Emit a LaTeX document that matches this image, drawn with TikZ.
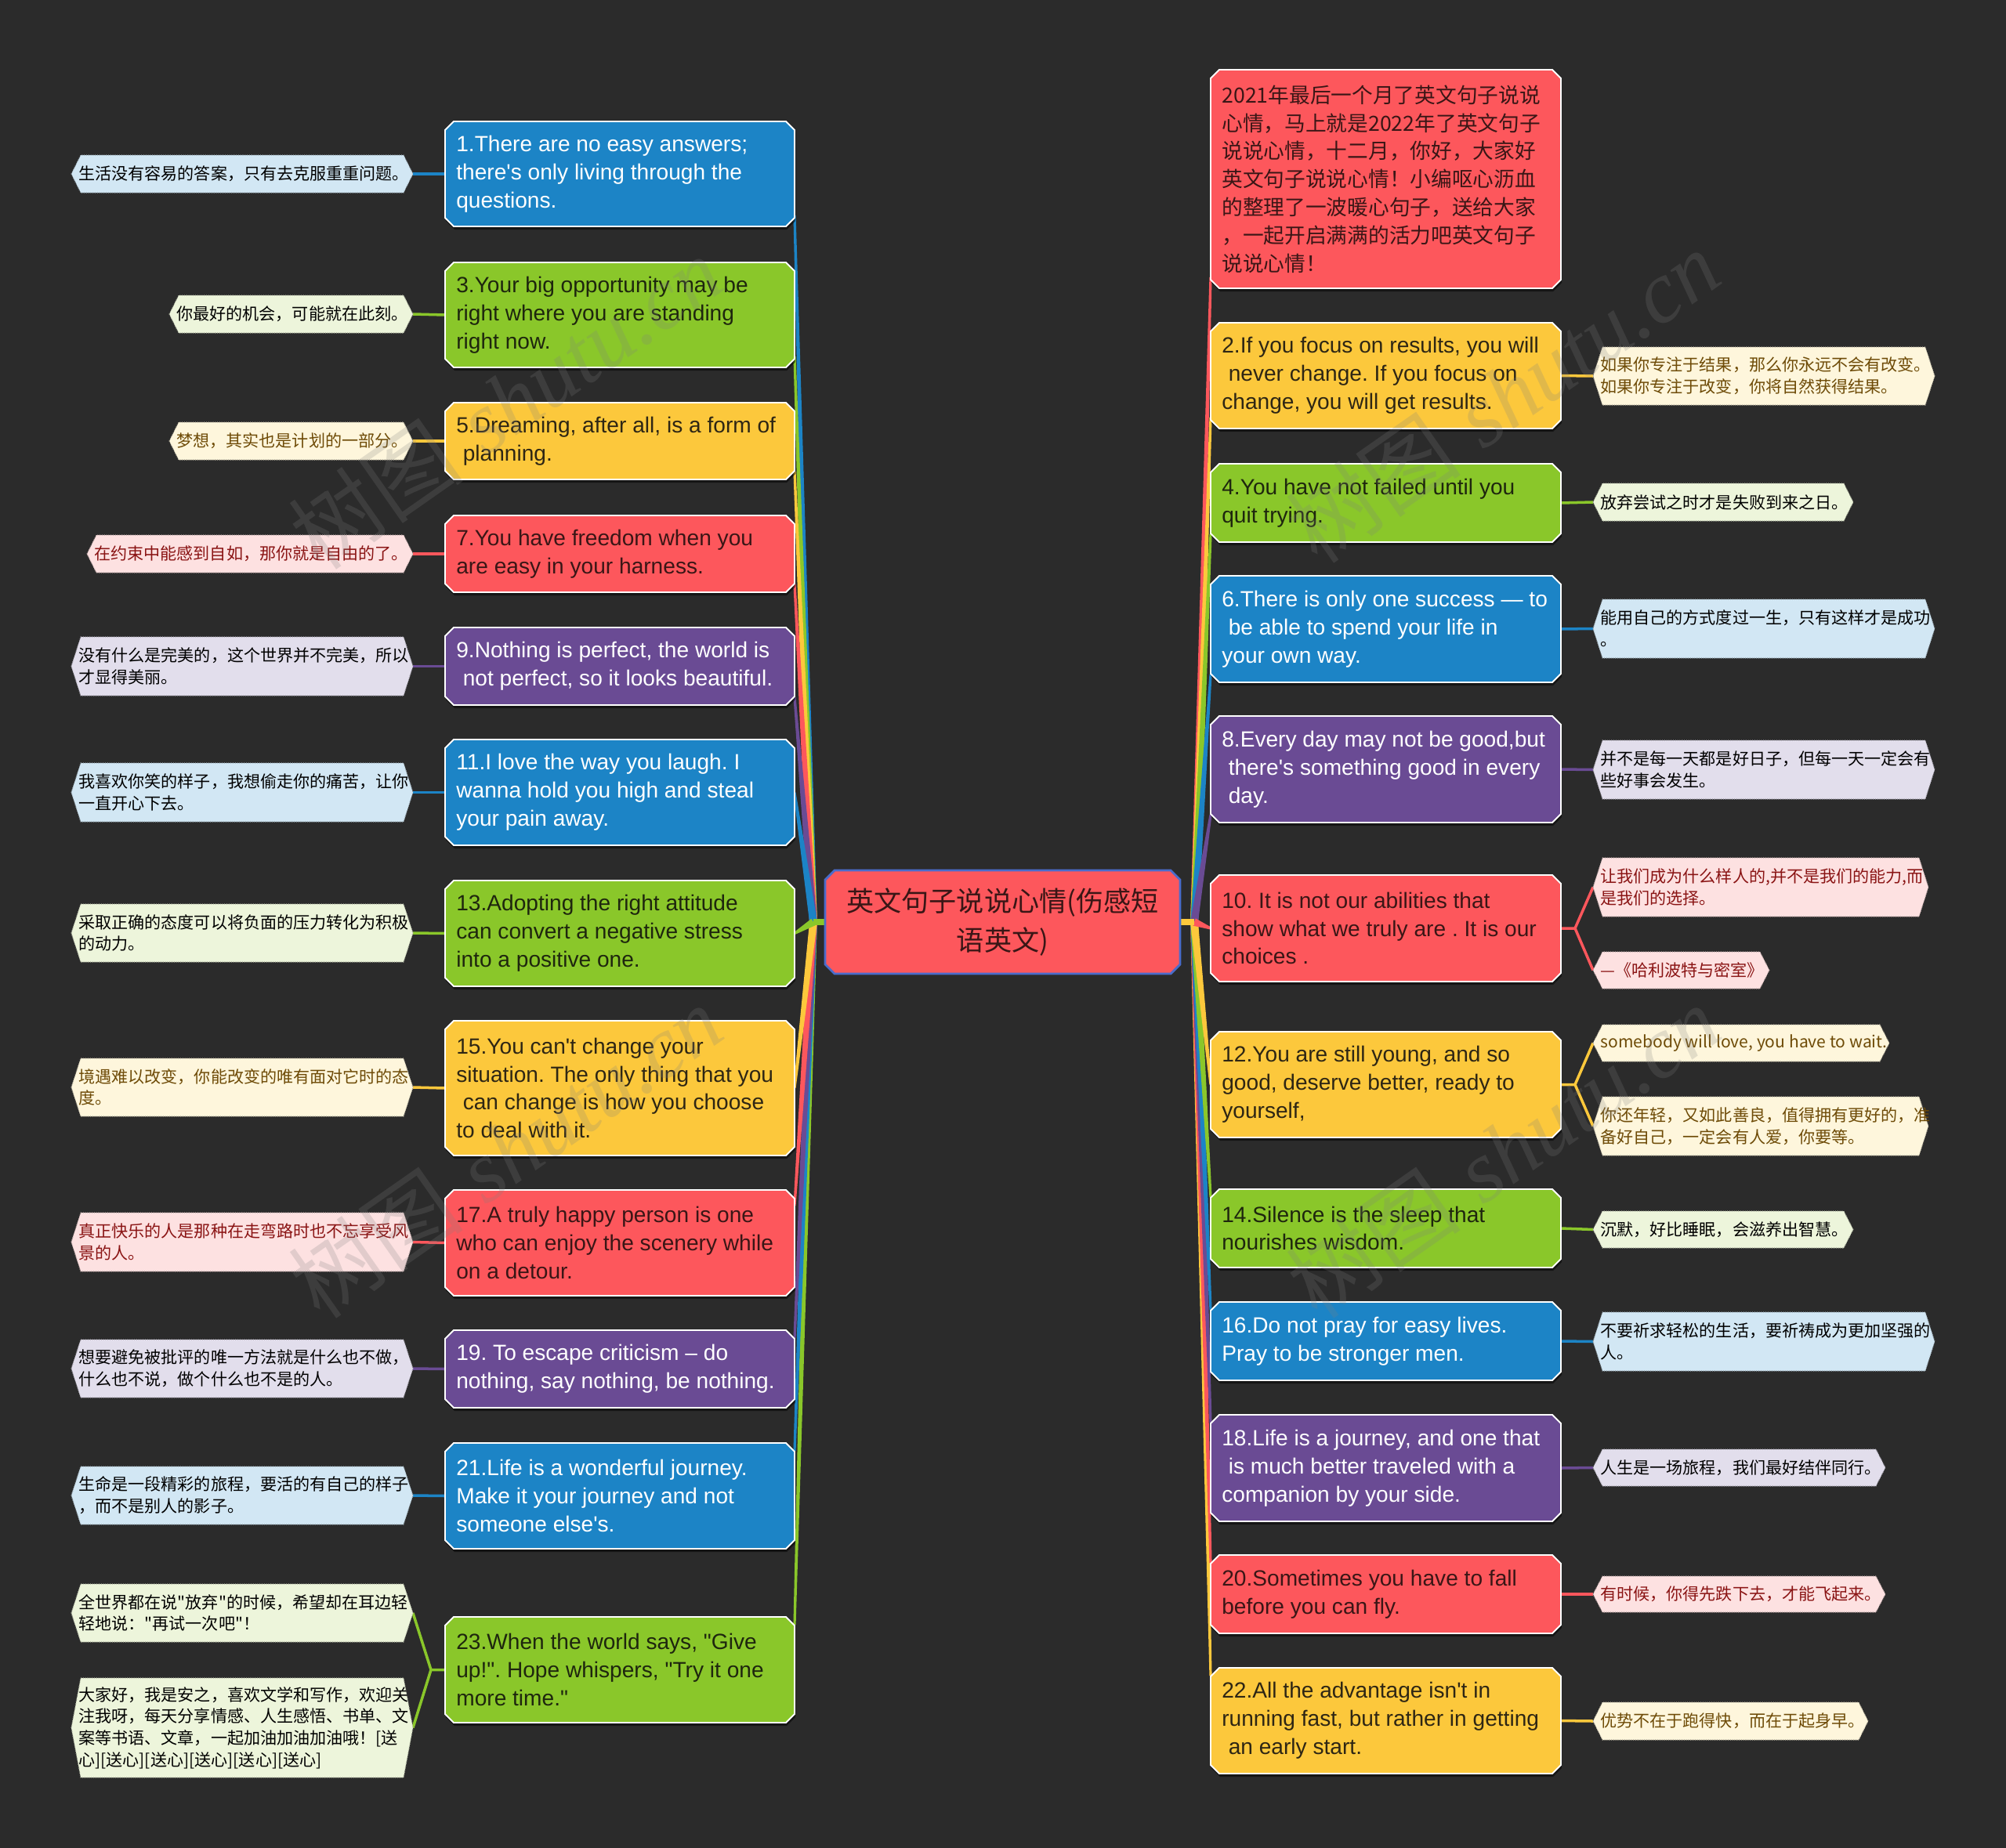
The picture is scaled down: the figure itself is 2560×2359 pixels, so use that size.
\documentclass[tikz,border=0pt]{standalone}
\usepackage{fontspec}
\setmainfont{Liberation Sans}[Ligatures=TeXOff]
\newfontfamily\cjk{Noto Sans CJK SC}
\newfontfamily\wmserif{Liberation Serif}
\usetikzlibrary{calc,fit}
\pgfdeclarelayer{bg}
\pgfsetlayers{bg,main}
\frenchspacing
\definecolor{bgc}{HTML}{2B2B2B}
\definecolor{cblue}{HTML}{1C84C6}
\definecolor{cgreen}{HTML}{8AC72A}
\definecolor{cyellow}{HTML}{FCC83C}
\definecolor{cred}{HTML}{FD575C}
\definecolor{cpurple}{HTML}{6A4B94}
\definecolor{cborder}{HTML}{4A6CCB}
\definecolor{lblue}{HTML}{D2E7F4}
\definecolor{lgreen}{HTML}{EDF5DB}
\definecolor{lyellow}{HTML}{FEF6DC}
\definecolor{lpink}{HTML}{FDE1E1}
\definecolor{lpurple}{HTML}{E2DEEC}
\definecolor{tgreen}{HTML}{1E260E}
\definecolor{tyellow}{HTML}{2E2614}
\definecolor{tred}{HTML}{3A1616}
\definecolor{ltyellow}{HTML}{6E4B07}
\definecolor{ltred}{HTML}{8A1414}
\newcommand\lsp{\hspace*{0.3em}}
\newcommand\mychamf[5]{\path[#5] ($(#1.north west)+(#3+#2,#4)$) -- ($(#1.north east)+(#3-#2,#4)$) -- ($(#1.north east)+(#3,#4+#2)$) -- ($(#1.south east)+(#3,#4-#2)$) -- ($(#1.south east)+(#3-#2,#4)$) -- ($(#1.south west)+(#3+#2,#4)$) -- ($(#1.south west)+(#3,#4-#2)$) -- ($(#1.north west)+(#3,#4+#2)$) -- cycle;}
\newcommand\mnode[8]{%
 \path (#2,#3) coordinate (#1nw) (#4,#5) coordinate (#1se);
 \node[fit=(#1nw)(#1se), inner sep=0pt, outer sep=0pt] (#1) {};
 \mychamf{#1}{11}{1}{4}{fill=black, fill opacity=0.5}
 \mychamf{#1}{11}{0}{0}{fill=#6, draw=white, line width=1.1pt}
 \node[#7] (#1t) at ($(#1.west)+(14,0)$) {#8};}
\newcommand\lnode[8]{%
 \path (#2,#3) coordinate (#1nw) (#4,#5) coordinate (#1se);
 \node[fit=(#1nw)(#1se), inner sep=0pt, outer sep=0pt] (#1) {};
 \path[fill=#6, draw=#6!70!black, line width=0.6pt, densely dotted] (#1.west) -- ($(#1.north west)+(12,0)$) -- ($(#1.north east)+(-12,0)$) -- (#1.east) -- ($(#1.south east)+(-12,0)$) -- ($(#1.south west)+(12,0)$) -- cycle;
 \node[#7] (#1t) at ($(#1.west)+(9,0)$) {#8};}
\newcommand\mybranch[3]{\fill[#3] ($(#1)!2.8pt!90:(#2)$) -- ($(#2)!0.9pt!-90:(#1)$) -- ($(#2)!0.9pt!90:(#1)$) -- ($(#1)!2.8pt!-90:(#2)$) -- cycle;}
\tikzset{
 mbase/.style={font=\fontsize{16pt}{20.4pt}\selectfont, align=left, inner sep=0pt, anchor=west},
 mw/.style={mbase, text=white},
 mg/.style={mbase, text=tgreen},
 my/.style={mbase, text=tyellow},
 mr/.style={mbase, text=tred},
 intro/.style={mbase, font=\cjk\fontsize{15.2pt}{20.4pt}\selectfont, text=tred},
 lbase/.style={font=\cjk\fontsize{12pt}{15.8pt}\selectfont, align=left, inner sep=0pt, anchor=west},
 lk/.style={lbase, text=black},
 lyt/.style={lbase, text=ltyellow},
 lrt/.style={lbase, text=ltred},
 leafline/.style={line width=2pt},
 wm/.style={font=\fontsize{64pt}{70pt}\selectfont, text=gray, text opacity=0.22, inner sep=0pt},
}
\begin{document}
\begin{tikzpicture}[x=0.02cm,y=-0.02cm]
\useasboundingbox (0,0) rectangle (2560,2359);
% centre
\path (1053,1111) coordinate (cnw) (1506,1243) coordinate (cse);
\node[fit=(cnw)(cse), inner sep=0pt, outer sep=0pt] (c) {};
\mychamf{c}{12}{0}{0}{fill=cred, draw=cborder, line width=1.6pt}
\node[font=\cjk\fontsize{20pt}{28pt}\selectfont, align=center, text=tred, inner sep=0pt] (ct) at (c.center) {英文句子说说心情(伤感短\\语英文)};
% left main nodes
\mnode{n1}{568}{155}{1014}{289}{cblue}{mw}{1.There are no easy answers;\\there's only living through the\\questions.}
\mnode{n3}{568}{335}{1014}{469}{cgreen}{mg}{3.Your big opportunity may be\\right where you are standing\\right now.}
\mnode{n5}{568}{514}{1014}{612}{cyellow}{my}{5.Dreaming, after all, is a form of\\\lsp planning.}
\mnode{n7}{568}{658}{1014}{756}{cred}{mr}{7.You have freedom when you\\are easy in your harness.}
\mnode{n9}{568}{801}{1014}{900}{cpurple}{mw}{9.Nothing is perfect, the world is\\\lsp not perfect, so it looks beautiful.}
\mnode{n11}{568}{944}{1014}{1079}{cblue}{mw}{11.I love the way you laugh. I\\wanna hold you high and steal\\your pain away.}
\mnode{n13}{568}{1124}{1014}{1259}{cgreen}{mg}{13.Adopting the right attitude\\can convert a negative stress\\into a positive one.}
\mnode{n15}{568}{1303}{1014}{1475}{cyellow}{my}{15.You can't change your\\situation. The only thing that you\\\lsp can change is how you choose\\to deal with it.}
\mnode{n17}{568}{1519}{1014}{1654}{cred}{mr}{17.A truly happy person is one\\who can enjoy the scenery while\\on a detour.}
\mnode{n19}{568}{1698}{1014}{1797}{cpurple}{mw}{19. To escape criticism – do\\nothing, say nothing, be nothing.}
\mnode{n21}{568}{1842}{1014}{1977}{cblue}{mw}{21.Life is a wonderful journey.\\Make it your journey and not\\someone else's.}
\mnode{n23}{568}{2064}{1014}{2199}{cgreen}{mg}{23.When the world says, "Give\\up!". Hope whispers, "Try it one\\more time."}
% right main nodes
\mnode{n0}{1545}{89}{1992}{368}{cred}{intro}{2021年最后一个月了英文句子说说\\心情，马上就是2022年了英文句子\\说说心情，十二月，你好，大家好\\英文句子说说心情！小编呕心沥血\\的整理了一波暖心句子，送给大家\\，一起开启满满的活力吧英文句子\\说说心情！}
\mnode{n2}{1545}{412}{1992}{547}{cyellow}{my}{2.If you focus on results, you will\\\lsp never change. If you focus on\\change, you will get results.}
\mnode{n4}{1545}{592}{1992}{692}{cgreen}{mg}{4.You have not failed until you\\quit trying.}
\mnode{n6}{1545}{735}{1992}{871}{cblue}{mw}{6.There is only one success — to\\\lsp be able to spend your life in\\your own way.}
\mnode{n8}{1545}{914}{1992}{1050}{cpurple}{mw}{8.Every day may not be good,but\\\lsp there's something good in every\\\lsp day.}
\mnode{n10}{1545}{1117}{1992}{1253}{cred}{mr}{10. It is not our abilities that\\show what we truly are . It is our\\choices .}
\mnode{n12}{1545}{1317}{1992}{1452}{cyellow}{my}{12.You are still young, and so\\good, deserve better, ready to\\yourself,}
\mnode{n14}{1545}{1518}{1992}{1618}{cgreen}{mg}{14.Silence is the sleep that\\nourishes wisdom.}
\mnode{n16}{1545}{1662}{1992}{1762}{cblue}{mw}{16.Do not pray for easy lives.\\Pray to be stronger men.}
\mnode{n18}{1545}{1806}{1992}{1942}{cpurple}{mw}{18.Life is a journey, and one that\\\lsp is much better traveled with a\\companion by your side.}
\mnode{n20}{1545}{1985}{1992}{2085}{cred}{mr}{20.Sometimes you have to fall\\before you can fly.}
\mnode{n22}{1545}{2129}{1992}{2264}{cyellow}{my}{22.All the advantage isn't in\\running fast, but rather in getting\\\lsp an early start.}
% left leaves
\lnode{l1}{91}{198}{527}{246}{lblue}{lk}{生活没有容易的答案，只有去克服重重问题。}
\lnode{l3}{216}{377}{527}{425}{lgreen}{lk}{你最好的机会，可能就在此刻。}
\lnode{l5}{216}{539}{527}{587}{lyellow}{lyt}{梦想，其实也是计划的一部分。}
\lnode{l7}{111}{683}{527}{731}{lpink}{lrt}{在约束中能感到自如，那你就是自由的了。}
\lnode{l9}{91}{813}{527}{888}{lpurple}{lk}{没有什么是完美的，这个世界并不完美，所以\\才显得美丽。}
\lnode{l11}{91}{974}{527}{1049}{lblue}{lk}{我喜欢你笑的样子，我想偷走你的痛苦，让你\\一直开心下去。}
\lnode{l13}{91}{1154}{527}{1228}{lgreen}{lk}{采取正确的态度可以将负面的压力转化为积极\\的动力。}
\lnode{l15}{91}{1351}{527}{1425}{lyellow}{lyt}{境遇难以改变，你能改变的唯有面对它时的态\\度。}
\lnode{l17}{91}{1548}{527}{1623}{lpink}{lrt}{真正快乐的人是那种在走弯路时也不忘享受风\\景的人。}
\lnode{l19}{91}{1710}{527}{1784}{lpurple}{lk}{想要避免被批评的唯一方法就是什么也不做，\\什么也不说，做个什么也不是的人。}
\lnode{l21}{91}{1872}{527}{1946}{lblue}{lk}{生命是一段精彩的旅程，要活的有自己的样子\\，而不是别人的影子。}
\lnode{l23a}{91}{2022}{527}{2096}{lgreen}{lk}{全世界都在说"放弃"的时候，希望却在耳边轻\\轻地说："再试一次吧"！}
\lnode{l23b}{91}{2142}{527}{2269}{lgreen}{lk}{大家好，我是安之，喜欢文学和写作，欢迎关\\注我呀，每天分享情感、人生感悟、书单、文\\案等书语、文章，一起加油加油加油哦！[送\\心][送心][送心][送心][送心][送心]}
% right leaves
\lnode{r2}{2033}{443}{2469}{517}{lyellow}{lyt}{如果你专注于结果，那么你永远不会有改变。\\如果你专注于改变，你将自然获得结果。}
\lnode{r4}{2033}{617}{2365}{665}{lgreen}{lk}{放弃尝试之时才是失败到来之日。}
\lnode{r6}{2033}{765}{2469}{840}{lblue}{lk}{能用自己的方式度过一生，只有这样才是成功\\。}
\lnode{r8}{2033}{945}{2469}{1020}{lpurple}{lk}{并不是每一天都是好日子，但每一天一定会有\\些好事会发生。}
\lnode{r10a}{2033}{1095}{2461}{1170}{lpink}{lrt}{让我们成为什么样人的,并不是我们的能力,而\\是我们的选择。}
\lnode{r10b}{2033}{1215}{2258}{1262}{lpink}{lrt}{—《哈利波特与密室》}
\lnode{r12a}{2033}{1308}{2411}{1355}{lyellow}{lyt}{somebody will love, you have to wait.}
\lnode{r12b}{2033}{1400}{2461}{1475}{lyellow}{lyt}{你还年轻，又如此善良，值得拥有更好的，准\\备好自己，一定会有人爱，你要等。}
\lnode{r14}{2033}{1546}{2365}{1593}{lgreen}{lk}{沉默，好比睡眠，会滋养出智慧。}
\lnode{r16}{2033}{1675}{2469}{1750}{lblue}{lk}{不要祈求轻松的生活，要祈祷成为更加坚强的\\人。}
\lnode{r18}{2033}{1850}{2406}{1897}{lpurple}{lk}{人生是一场旅程，我们最好结伴同行。}
\lnode{r20}{2033}{2012}{2406}{2058}{lpink}{lrt}{有时候，你得先跌下去，才能飞起来。}
\lnode{r22}{2033}{2173}{2384}{2221}{lyellow}{lyt}{优势不在于跑得快，而在于起身早。}
% watermarks
\node[wm, rotate=35] (w1) at (645,514) {{\cjk 树图} {\wmserif\itshape shutu.cn}};
\node[wm, rotate=35] (w2) at (645,1470) {{\cjk 树图} {\wmserif\itshape shutu.cn}};
\node[wm, rotate=35] (w3) at (1918,506) {{\cjk 树图} {\wmserif\itshape shutu.cn}};
\node[wm, rotate=35] (w4) at (1918,1470) {{\cjk 树图} {\wmserif\itshape shutu.cn}};
% connectors
\begin{pgfonlayer}{bg}
\fill[bgc] (0,0) rectangle (2560,2359);
\coordinate (JL) at (1038,1177);
\coordinate (JR) at (1524,1177);
\coordinate (a1) at ($(n1.south east)+(0,-14)$);
\coordinate (a3) at ($(n3.south east)+(0,-14)$);
\coordinate (a5) at ($(n5.south east)+(0,-10)$);
\coordinate (a7) at ($(n7.south east)+(0,-10)$);
\coordinate (a9) at ($(n9.south east)+(0,-10)$);
\coordinate (a11) at (n11.east);
\coordinate (a13) at (n13.east);
\coordinate (a15) at (n15.east);
\coordinate (a17) at ($(n17.north east)+(0,20)$);
\coordinate (a19) at ($(n19.north east)+(0,10)$);
\coordinate (a21) at ($(n21.north east)+(0,10)$);
\coordinate (a23) at ($(n23.north east)+(0,10)$);
\coordinate (b0) at ($(n0.south west)+(0,-14)$);
\coordinate (b2) at ($(n2.south west)+(0,-14)$);
\coordinate (b4) at ($(n4.south west)+(0,-10)$);
\coordinate (b6) at ($(n6.south west)+(0,-10)$);
\coordinate (b8) at ($(n8.south west)+(0,-10)$);
\coordinate (b10) at (n10.west);
\coordinate (b12) at (n12.west);
\coordinate (b14) at ($(n14.north west)+(0,10)$);
\coordinate (b16) at ($(n16.north west)+(0,10)$);
\coordinate (b18) at ($(n18.north west)+(0,10)$);
\coordinate (b20) at ($(n20.north west)+(0,10)$);
\coordinate (b22) at ($(n22.north west)+(0,10)$);
\mybranch{JL}{a1}{cblue}
\mybranch{JL}{a3}{cgreen}
\mybranch{JL}{a5}{cyellow}
\mybranch{JL}{a7}{cred}
\mybranch{JL}{a9}{cpurple}
\mybranch{JL}{a11}{cblue}
\mybranch{JL}{a23}{cgreen}
\mybranch{JL}{a21}{cblue}
\mybranch{JL}{a19}{cpurple}
\mybranch{JL}{a17}{cred}
\mybranch{JL}{a15}{cyellow}
\mybranch{JL}{a13}{cgreen}
\mybranch{JR}{b0}{cred}
\mybranch{JR}{b2}{cyellow}
\mybranch{JR}{b4}{cgreen}
\mybranch{JR}{b6}{cblue}
\mybranch{JR}{b8}{cpurple}
\mybranch{JR}{b22}{cyellow}
\mybranch{JR}{b20}{cred}
\mybranch{JR}{b18}{cpurple}
\mybranch{JR}{b16}{cblue}
\mybranch{JR}{b14}{cgreen}
\mybranch{JR}{b12}{cyellow}
\mybranch{JR}{b10}{cred}
\draw[cgreen, line width=4pt] (c.west) -- (JL);
\draw[cyellow, line width=4pt] (c.east) -- (JR);
% leaf connectors
\draw[leafline, cblue] (n1.west) -- (l1.east);
\draw[leafline, cgreen] (n3.west) -- (l3.east);
\draw[leafline, cyellow] (n5.west) -- (l5.east);
\draw[leafline, cred] (n7.west) -- (l7.east);
\draw[leafline, cpurple] (n9.west) -- (l9.east);
\draw[leafline, cblue] (n11.west) -- (l11.east);
\draw[leafline, cgreen] (n13.west) -- (l13.east);
\draw[leafline, cyellow] (n15.west) -- (l15.east);
\draw[leafline, cred] (n17.west) -- (l17.east);
\draw[leafline, cpurple] (n19.west) -- (l19.east);
\draw[leafline, cblue] (n21.west) -- (l21.east);
\coordinate (k23) at ($(n23.west)+(-18,0)$);
\draw[leafline, cgreen] (n23.west) -- (k23) -- (l23a.east);
\draw[leafline, cgreen] (k23) -- (l23b.east);
\draw[leafline, cyellow] (n2.east) -- (r2.west);
\draw[leafline, cgreen] (n4.east) -- (r4.west);
\draw[leafline, cblue] (n6.east) -- (r6.west);
\draw[leafline, cpurple] (n8.east) -- (r8.west);
\coordinate (k10) at ($(n10.east)+(18,0)$);
\draw[leafline, cred] (n10.east) -- (k10) -- (r10a.west);
\draw[leafline, cred] (k10) -- (r10b.west);
\coordinate (k12) at ($(n12.east)+(18,0)$);
\draw[leafline, cyellow] (n12.east) -- (k12) -- (r12a.west);
\draw[leafline, cyellow] (k12) -- (r12b.west);
\draw[leafline, cgreen] (n14.east) -- (r14.west);
\draw[leafline, cblue] (n16.east) -- (r16.west);
\draw[leafline, cpurple] (n18.east) -- (r18.west);
\draw[leafline, cred] (n20.east) -- (r20.west);
\draw[leafline, cyellow] (n22.east) -- (r22.west);
\end{pgfonlayer}
\end{tikzpicture}
\end{document}
